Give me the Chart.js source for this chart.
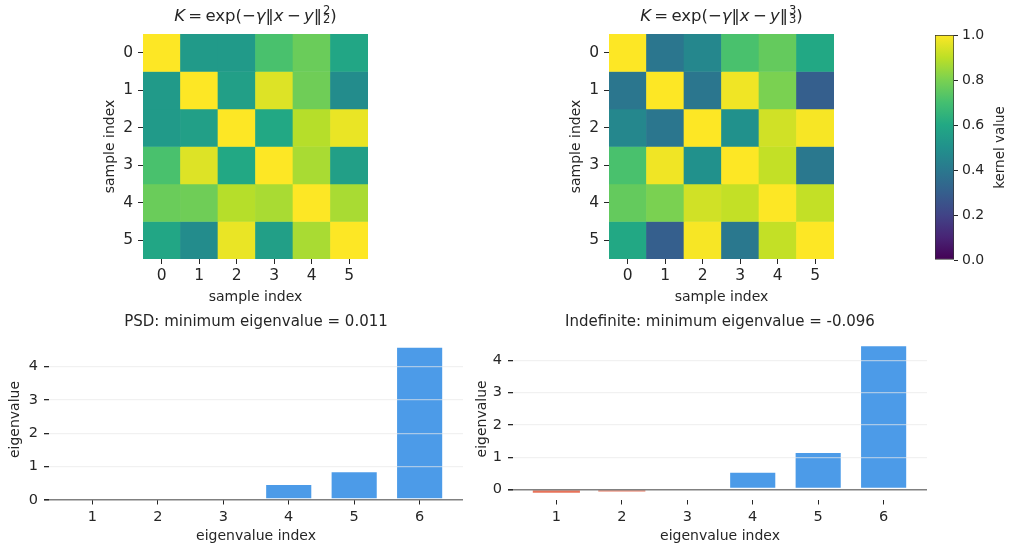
<!DOCTYPE html>
<html>
<head>
<meta charset="utf-8">
<script src="https://cdn.jsdelivr.net/npm/chart.js@4.4.1/dist/chart.umd.min.js"></script>
<style>
  html, body { margin: 0; padding: 0; background: #fff; overflow: hidden; }
  #fig { position: relative; width: 1009px; height: 549px; }
  #fig canvas { position: absolute; }
</style>
</head>
<body>
<div id="fig">
  <canvas id="heatGauss" width="280" height="310" style="left:98px;top:0"></canvas>
  <canvas id="heatCubic" width="280" height="310" style="left:564px;top:0"></canvas>
  <canvas id="cbar" width="89" height="310" style="left:920px;top:0"></canvas>
  <canvas id="eigPsd" width="480" height="244" style="left:0;top:305px"></canvas>
  <canvas id="eigIndef" width="480" height="244" style="left:470px;top:305px"></canvas>
</div>
<script>
const sampleIndex = ['0', '1', '2', '3', '4', '5'];
const gaussKernel = [
  [1.00, 0.54, 0.54, 0.71, 0.77, 0.59],
  [0.54, 1.00, 0.56, 0.95, 0.78, 0.48],
  [0.54, 0.56, 1.00, 0.60, 0.89, 0.97],
  [0.71, 0.95, 0.60, 1.00, 0.87, 0.56],
  [0.77, 0.78, 0.89, 0.87, 1.00, 0.87],
  [0.59, 0.48, 0.97, 0.56, 0.87, 1.00],
];
const cubicKernel = [
  [1.00, 0.39, 0.46, 0.71, 0.76, 0.60],
  [0.39, 1.00, 0.39, 0.98, 0.80, 0.30],
  [0.46, 0.39, 1.00, 0.50, 0.93, 0.99],
  [0.71, 0.98, 0.50, 1.00, 0.91, 0.40],
  [0.76, 0.80, 0.93, 0.91, 1.00, 0.91],
  [0.60, 0.30, 0.99, 0.40, 0.91, 1.00],
];
const eigIndex = [1, 2, 3, 4, 5, 6];
const psdEigenvalues = [0.011, 0.015, 0.035, 0.48, 0.86, 4.60];
const indefEigenvalues = [-0.096, -0.06, 0.005, 0.55, 1.16, 4.47];
const eigTicks = [0, 1, 2, 3, 4];
const kernelTicks = [0, 0.2, 0.4, 0.6, 0.8, 1.0];

const TEXT = '#262626';
const POS = '#4c9be8';
const NEG = '#e8735a';
const FONT = 'DejaVu Sans';

Chart.defaults.font.family = FONT;
Chart.defaults.color = TEXT;
Chart.defaults.animation = false;
Chart.defaults.plugins.legend.display = false;
Chart.defaults.plugins.tooltip.enabled = false;

// matplotlib viridis, sampled every 0.1
const VIRIDIS = [
  [68, 1, 84], [72, 36, 117], [65, 68, 135], [53, 95, 141], [42, 120, 142],
  [33, 145, 140], [34, 168, 132], [68, 191, 112], [122, 209, 81], [189, 223, 38], [253, 231, 37],
];

function viridis(v) {
  const t = Math.min(Math.max(v, 0), 1) * 10;
  const i = Math.min(Math.floor(t), 9);
  const f = t - i;
  const a = VIRIDIS[i];
  const b = VIRIDIS[i + 1];
  const c = a.map((x, k) => Math.round(x + (b[k] - x) * f));
  return `rgb(${c[0]},${c[1]},${c[2]})`;
}

// draws a title made of upright / italic / super+subscript pieces, centred on the plot
function titlePlugin(segments, baseline, size) {
  return {
    id: 'mathTitle',
    afterDraw(chart) {
      const { ctx, chartArea } = chart;
      const small = size * 0.7;
      const fontOf = (s) => `${s.italic ? 'italic ' : ''}${s.sup !== undefined ? small : size}px "${FONT}"`;
      ctx.save();
      const widths = segments.map((s) => {
        ctx.font = fontOf(s);
        if (s.sup !== undefined) return Math.max(ctx.measureText(s.sup).width, ctx.measureText(s.sub).width) + 1;
        return ctx.measureText(s.text).width;
      });
      const total = widths.reduce((a, b) => a + b, 0);
      let x = (chartArea.left + chartArea.right) / 2 - total / 2;
      ctx.fillStyle = TEXT;
      ctx.textBaseline = 'alphabetic';
      ctx.textAlign = 'left';
      segments.forEach((s, i) => {
        ctx.font = fontOf(s);
        if (s.sup !== undefined) {
          ctx.fillText(s.sup, x + 1, baseline - size * 0.42);
          ctx.fillText(s.sub, x + 1, baseline + size * 0.18);
        } else {
          ctx.fillText(s.text, x, baseline);
        }
        x += widths[i];
      });
      ctx.restore();
    },
  };
}

// colorbar label reads bottom-to-top, as on the left axes
const cbarLabel = {
  id: 'cbarLabel',
  afterDraw(chart) {
    const { ctx, chartArea } = chart;
    ctx.save();
    ctx.translate(80, (chartArea.top + chartArea.bottom) / 2);
    ctx.rotate(-Math.PI / 2);
    ctx.font = `13.5px "${FONT}"`;
    ctx.fillStyle = TEXT;
    ctx.textAlign = 'center';
    ctx.textBaseline = 'middle';
    ctx.fillText('kernel value', 0, 0);
    ctx.restore();
  },
};

function kernelTitle(p) {
  return [
    { text: 'K', italic: true },
    { text: '\u2009=\u2009exp(\u2212' },
    { text: '\u03b3', italic: true },
    { text: '\u2016' },
    { text: 'x', italic: true },
    { text: '\u2009\u2212\u2009' },
    { text: 'y', italic: true },
    { text: '\u2016' },
    { sup: p, sub: p },
    { text: ')' },
  ];
}

function heatmap(id, matrix, title) {
  const datasets = matrix.map((row, i) => ({
    data: row.map(() => [i - 0.5, i + 0.5]),
    backgroundColor: row.map(viridis),
    borderWidth: 0,
    grouped: false,
    barPercentage: 1,
    categoryPercentage: 1,
  }));

  return new Chart(document.getElementById(id), {
    type: 'bar',
    data: { labels: sampleIndex, datasets },
    options: {
      responsive: false,
      devicePixelRatio: 1,
      layout: { padding: { left: 0, top: 34, right: 10, bottom: 0 } },
      scales: {
        x: {
          type: 'category',
          offset: true,
          grid: { offset: false, drawOnChartArea: false, tickLength: 5, tickColor: TEXT },
          border: { display: false },
          ticks: { font: { size: 15.5 }, padding: 3, maxRotation: 0 },
          title: { display: true, text: 'sample index', font: { size: 14 } },
          afterFit: (s) => { s.height = 51; },
        },
        y: {
          type: 'linear',
          reverse: true,
          min: -0.5,
          max: 5.5,
          afterBuildTicks: (s) => { s.ticks = sampleIndex.map((l, i) => ({ value: i })); },
          grid: { drawOnChartArea: false, tickLength: 5, tickColor: TEXT },
          border: { display: false },
          ticks: { font: { size: 15.5 }, padding: 5, callback: (v) => sampleIndex[v] },
          title: { display: true, text: 'sample index', font: { size: 14 } },
          afterFit: (s) => { s.width = 45; },
        },
      },
    },
    plugins: [titlePlugin(title, 20.5, 16.5)],
  });
}

function eigenChart(id, values, yMin, yMax, title, yWidth, padLeft, padRight, padTop) {
  return new Chart(document.getElementById(id), {
    type: 'bar',
    data: {
      datasets: [{
        data: eigIndex.map((x, i) => ({ x, y: values[i] })),
        backgroundColor: (c) => (values[c.dataIndex] < 0 ? NEG : POS),
        borderColor: (c) => (values[c.dataIndex] < 0 ? NEG : 'rgba(255,255,255,0.55)'),
        borderWidth: (c) => (values[c.dataIndex] < 0 ? 0 : 1),
        borderSkipped: false,
        barPercentage: 0.72,
        categoryPercentage: 1,
      }],
    },
    options: {
      responsive: false,
      devicePixelRatio: 1,
      layout: { padding: { left: padLeft, top: padTop, right: padRight, bottom: 0 } },
      scales: {
        x: {
          type: 'linear',
          min: 0.3375,
          max: 6.6625,
          offset: false,
          afterBuildTicks: (s) => { s.ticks = eigIndex.map((v) => ({ value: v })); },
          grid: { offset: false, drawOnChartArea: false, tickLength: 4.5, tickColor: TEXT },
          border: { display: false },
          ticks: { font: { size: 14.5 }, padding: 4, maxRotation: 0 },
          title: { display: true, text: 'eigenvalue index', font: { size: 14 } },
          afterFit: (s) => { s.height = 49; },
        },
        y: {
          type: 'linear',
          min: yMin,
          max: yMax,
          afterBuildTicks: (s) => { s.ticks = eigTicks.map((v) => ({ value: v })); },
          grid: {
            z: 1,
            color: (c) => (c.tick && c.tick.value === 0 ? '#808080' : 'rgba(232,232,232,0.6)'),
            lineWidth: (c) => (c.tick && c.tick.value === 0 ? 1.6 : 1.3),
            tickColor: TEXT,
            tickLength: 5,
          },
          border: { display: false },
          ticks: { font: { size: 14.5 }, padding: 6 },
          title: { display: true, text: 'eigenvalue', font: { size: 14 } },
          afterFit: (s) => { s.width = yWidth; },
        },
      },
    },
    plugins: [titlePlugin([{ text: title }], 21, 15)],
  });
}

function colorbar(id) {
  return new Chart(document.getElementById(id), {
    type: 'bar',
    data: {
      labels: ['kernel'],
      datasets: [{
        data: [[0, 1]],
        backgroundColor: (c) => {
          const chart = c.chart;
          if (!chart.chartArea) return viridis(0.5);
          const ys = chart.scales.y;
          const g = chart.ctx.createLinearGradient(0, ys.getPixelForValue(0), 0, ys.getPixelForValue(1));
          VIRIDIS.forEach((rgb, i) => g.addColorStop(i / 10, `rgb(${rgb.join(',')})`));
          return g;
        },
        borderColor: '#333333',
        borderWidth: 1,
        borderSkipped: false,
        barPercentage: 1,
        categoryPercentage: 1,
      }],
    },
    options: {
      responsive: false,
      devicePixelRatio: 1,
      layout: { padding: { left: 15, top: 35, right: 0, bottom: 50 } },
      scales: {
        x: { display: false },
        y: {
          position: 'right',
          min: 0,
          max: 1,
          afterBuildTicks: (s) => { s.ticks = kernelTicks.map((v) => ({ value: v })); },
          grid: { drawOnChartArea: false, tickLength: 4, tickColor: TEXT },
          border: { display: false },
          ticks: { font: { size: 14 }, padding: 4, callback: (v) => v.toFixed(1) },
          afterFit: (s) => { s.width = 55; },
        },
      },
    },
    plugins: [cbarLabel],
  });
}

heatmap('heatGauss', gaussKernel, kernelTitle('2'));
heatmap('heatCubic', cubicKernel, kernelTitle('3'));
colorbar('cbar');
eigenChart('eigPsd', psdEigenvalues, 0, 4.83, 'PSD: minimum eigenvalue = 0.011', 46, 3, 17, 34);
eigenChart('eigIndef', indefEigenvalues, -0.324, 4.70, 'Indefinite: minimum eigenvalue = -0.096', 43, 0, 23, 32.7);
</script>
</body>
</html>
